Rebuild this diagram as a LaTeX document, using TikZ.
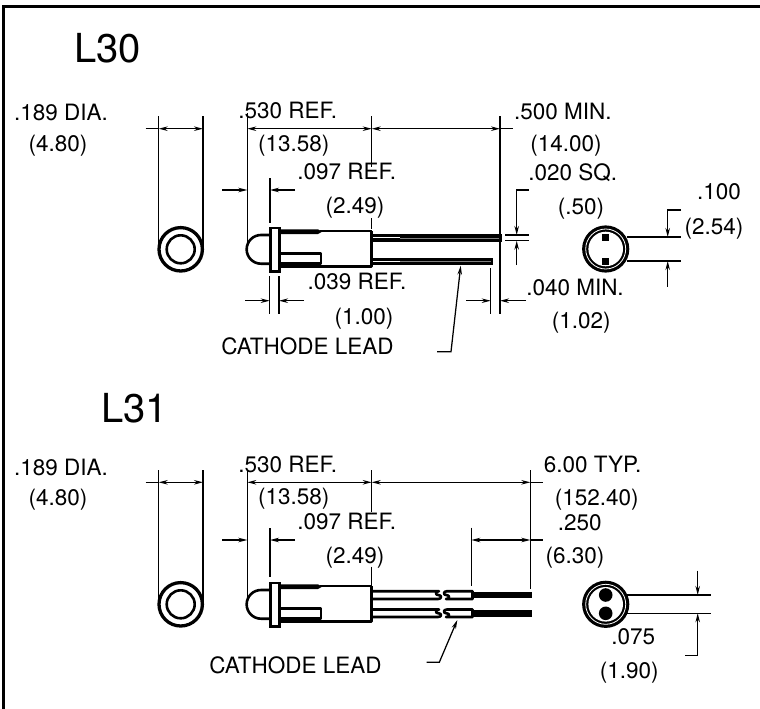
\documentclass[tikz,border=0pt]{standalone}
\usepackage{fontspec}
\setmainfont{TeX Gyre Heros}
\usetikzlibrary{arrows.meta}
\tikzstyle{dim} = [line width=1.25pt]
\tikzstyle{arrow} = [line width=1.25pt,-{Stealth[length=9pt,width=4.5pt]}]
\tikzstyle{both} = [line width=1.25pt,{Stealth[length=9pt,width=4.5pt]}-{Stealth[length=9pt,width=4.5pt]}]
\tikzstyle{outline} = [line width=2.6pt, line join=round]
\tikzstyle{dimtext} = [inner sep=0pt, font=\fontsize{22.5}{22.5}\selectfont, text height=16pt, text depth=0pt]
\tikzstyle{title} = [inner sep=0pt, font=\fontsize{40}{40}\selectfont, text height=28.6pt, text depth=0pt]

\begin{document}
\begin{tikzpicture}[x=1pt,y=-1pt]
\useasboundingbox (0,0) rectangle (760,709);
%%%%% FRAME
\draw [line width=3.4pt] (3.5,709) -- (3.5,6.5) -- (760,6.5);

%%%%% L30 TEXT
\node (l30) [title] at (107.5,48) {L30};
\node (dia1) [dimtext] at (61,112) {.189 DIA.};
\node (dia1mm) [dimtext] at (58,143) {(4.80)};
\node (ref1) [dimtext] at (287.8,110.7) {.530 REF.};
\node (ref1mm) [dimtext] at (293.7,143) {(13.58)};
\node (flange1) [dimtext] at (346.7,171.7) {.097 REF.};
\node (flange1mm) [dimtext] at (355,205) {(2.49)};
\node (rim1) [dimtext] at (357,281.7) {.039 REF.};
\node (rim1mm) [dimtext] at (364,316.7) {(1.00)};
\node (cathode1) [dimtext] at (307.5,346.7) {CATHODE LEAD};
\node (min1) [dimtext] at (562.8,111.7) {.500 MIN.};
\node (min1mm) [dimtext] at (566,143.3) {(14.00)};
\node (sq1) [dimtext] at (572.7,172.7) {.020 SQ.};
\node (sq1mm) [dimtext] at (581,206) {(.50)};
\node (pitch1) [dimtext] at (719,191.7) {.100};
\node (pitch1mm) [dimtext] at (714,226) {(2.54)};
\node (short1) [dimtext] at (575,287.3) {.040 MIN.};
\node (short1mm) [dimtext] at (581.3,320.7) {(1.02)};

%%%%% L30 LAMP
\draw [outline, line width=3.3pt] (180.7,249.3) circle (21.7);
\draw [outline] (180.7,249.3) circle (14);
\draw [outline] (269,235) -- (261,235) arc (-90:-270:14.35) -- (269,263.7);
\draw [outline] (371.7,231) -- (371.7,266.7) -- (280,266.7);
\draw [outline] (320,231) -- (371.7,231);
\fill (280,229.3) -- (318,229.3) -- (322,231.8) -- (318,234) -- (280,234) -- cycle;
\draw [outline] (280,253.3) -- (321,253.3) -- (321,263.5) -- (280,263.5);
\fill [white, draw=black, line width=2.6pt] (270.3,228) rectangle (279.2,271.2);
\fill (371.7,233.9) rectangle (501.7,241.7);
\draw [white, line width=0.9pt] (373,237.6) -- (400,237.6);
\draw [gray, line width=0.5pt] (400,237.8) -- (500,237.8);
\fill (371.7,257.7) rectangle (492.7,264.5);
\draw [white, line width=0.9pt] (373,261) -- (400,261);
\draw [gray, line width=0.5pt] (400,261) -- (491,261);
% end view
\fill (605.7,249) circle (23.6);
\draw [white, line width=0.8pt] (605.7,249) circle (20);
\fill [white] (605.7,249) circle (17.3);
\fill (602.2,233.6) rectangle (609.2,241);
\fill (602.2,257.6) rectangle (609.2,265);

%%%%% L30 DIMENSIONS
\draw [dim] (158.7,116) -- (158.7,249);
\draw [dim] (203,116) -- (203,249);
\draw [dim] (145.7,128.7) -- (158.7,128.7);
\draw [both] (158.7,128.7) -- (203,128.7);
\draw [dim] (247.3,113) -- (247.3,249);
\draw [dim] (371.7,116) -- (371.7,167);
\draw [dim] (371.7,218) -- (371.7,229);
\draw [dim] (500,116) -- (500,314);
\draw [both] (247.3,128.7) -- (371.7,128.7);
\draw [dim] (500,128.7) -- (513,128.7);
\draw [both] (371.7,128.7) -- (500,128.7);
\draw [arrow] (222,190) -- (247.3,190);
\draw [dim] (270,178) -- (270,223);
\draw [arrow] (295,190) -- (270,190);
\draw [dim] (269.7,276) -- (269.7,314);
\draw [dim] (279,276) -- (279,314);
\draw [arrow] (245,300.7) -- (269.7,300.7);
\draw [arrow] (304,300.7) -- (279,300.7);
\draw [dim] (505,235) -- (529,235);
\draw [dim] (505,240.7) -- (529,240.7);
\draw [arrow] (529,190) -- (516.7,190) -- (516.7,235);
\draw [arrow] (516.7,265) -- (516.7,240.7);
\draw [dim] (490.7,268) -- (490.7,314);
\draw [arrow] (466,300.7) -- (490.7,300.7);
\draw [arrow] (526,300.7) -- (500,300.7);
\draw [arrow] (437,351.7) -- (451,351.7) -- (460.7,265.7);
\draw [dim] (626.7,237) -- (681,237);
\draw [dim] (626.7,261) -- (681,261);
\draw [arrow] (681,210) -- (667.7,210) -- (667.7,237);
\draw [arrow] (667.7,286.7) -- (667.7,261);

%%%%% L31 TEXT
\node (l31) [title] at (134.5,408) {L31};
\node (dia2) [dimtext] at (61,467) {.189 DIA.};
\node (dia2mm) [dimtext] at (58,497) {(4.80)};
\node (ref2) [dimtext] at (287.8,464) {.530 REF.};
\node (ref2mm) [dimtext] at (293.7,496.7) {(13.58)};
\node (flange2) [dimtext] at (346.7,521.7) {.097 REF.};
\node (flange2mm) [dimtext] at (355,555) {(2.49)};
\node (cathode2) [dimtext] at (295.5,665.7) {CATHODE LEAD};
\node (typ2) [dimtext] at (592.5,464) {6.00 TYP.};
\node (typ2mm) [dimtext] at (596.7,497.3) {(152.40)};
\node (tube2) [dimtext] at (579.7,522.3) {.250};
\node (tube2mm) [dimtext] at (575,555) {(6.30)};
\node (pitch2) [dimtext] at (633.3,636.7) {.075};
\node (pitch2mm) [dimtext] at (629.3,670) {(1.90)};

%%%%% L31 LAMP
\draw [outline, line width=3.3pt] (180.7,604.3) circle (21.7);
\draw [outline] (180.7,604.3) circle (14);
\draw [outline] (269,590) -- (261,590) arc (-90:-270:14.35) -- (269,618.7);
\draw [outline] (371.7,586) -- (371.7,621.7) -- (280,621.7);
\draw [outline] (320,586) -- (371.7,586);
\fill (280,584.3) -- (318,584.3) -- (322,586.8) -- (318,589) -- (280,589) -- cycle;
\draw [outline] (280,608.3) -- (321,608.3) -- (321,618.5) -- (280,618.5);
\fill [white, draw=black, line width=2.6pt] (270.3,583) rectangle (279.2,626.2);
% leads with break
\draw [outline] (371.7,591.2) -- (439,591.2) .. controls (435,591.2) and (435,595.1) .. (438.5,595.1) .. controls (442,595.1) and (442,599) .. (438,599) -- (371.7,599);
\draw [outline] (371.7,609.5) -- (439,609.5) .. controls (435,609.5) and (435,613.3) .. (438.5,613.3) .. controls (442,613.3) and (442,617) .. (438,617) -- (371.7,617);
\draw [outline] (447,591.2) .. controls (443,591.2) and (443,595.1) .. (446.5,595.1) .. controls (450,595.1) and (450,599) .. (446,599) -- (472.5,599) -- (472.5,591.2) -- cycle;
\draw [outline] (447,609.5) .. controls (443,609.5) and (443,613.3) .. (446.5,613.3) .. controls (450,613.3) and (450,617) .. (446,617) -- (472.5,617) -- (472.5,609.5) -- cycle;
\draw [line width=6.6pt] (473,595) -- (532.3,595);
\draw [line width=6.6pt] (473,613.3) -- (532.3,613.3);
% end view
\fill (605.7,604.3) circle (23.6);
\draw [white, line width=0.8pt] (605.7,604.3) circle (20);
\fill [white] (605.7,604.3) circle (17.3);
\fill (605.7,595) circle (6.8);
\fill (605.7,613.3) circle (6.8);

%%%%% L31 DIMENSIONS
\draw [dim] (158.7,470) -- (158.7,604);
\draw [dim] (203,470) -- (203,604);
\draw [dim] (145.7,482.3) -- (158.7,482.3);
\draw [both] (158.7,482.3) -- (203,482.3);
\draw [dim] (247.3,470) -- (247.3,604);
\draw [dim] (371.7,470) -- (371.7,511.7);
\draw [dim] (371.7,566.7) -- (371.7,585);
\draw [dim] (530.3,470) -- (530.3,589.3);
\draw [both] (247.3,482.3) -- (371.7,482.3);
\draw [dim] (530.3,482.3) -- (543,482.3);
\draw [both] (371.7,482.3) -- (530.3,482.3);
\draw [arrow] (222,540) -- (247.3,540);
\draw [dim] (270,528.3) -- (270,577.3);
\draw [arrow] (295,540) -- (270,540);
\draw [dim] (471.3,527.7) -- (471.3,586);
\draw [dim] (530.3,540) -- (543,540);
\draw [both] (471.3,540) -- (530.3,540);
\draw [arrow] (426.7,662.3) -- (439.3,662.3) -- (457.3,620);
\draw [dim] (626.7,595) -- (710.7,595);
\draw [dim] (626.7,613.3) -- (710.7,613.3);
\draw [arrow] (697.7,570.7) -- (697.7,595);
\draw [arrow] (685,655.3) -- (697.7,655.3) -- (697.7,613.3);
\end{tikzpicture}
\end{document}
